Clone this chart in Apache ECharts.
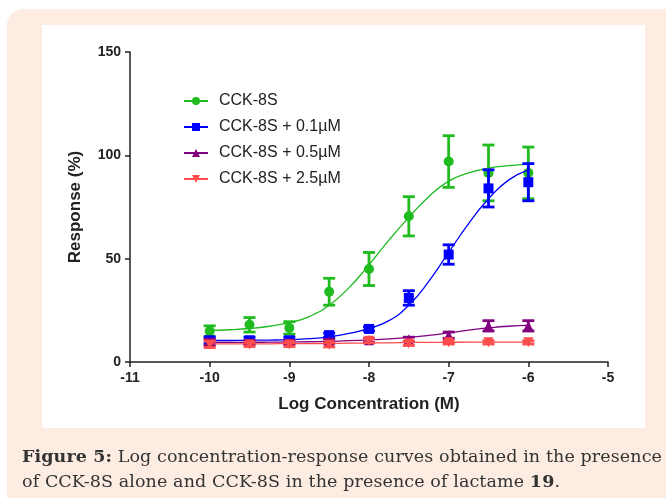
<!DOCTYPE html>
<html>
<head>
<meta charset="utf-8">
<script src="https://cdn.jsdelivr.net/npm/echarts@6/dist/echarts.min.js"></script>
<style>
  html, body { margin: 0; padding: 0; background: #fff; }
  #frame {
    position: absolute; left: 7px; top: 9px; width: 700px; height: 520px;
    background: #fcece1; border-radius: 16px;
  }
  #panel {
    position: absolute; left: 42px; top: 25px; width: 603px; height: 403px;
    background: #fff;
  }
  #chart { position: absolute; left: 0; top: 0; width: 666px; height: 498px; }
  #caption {
    position: absolute; left: 22px; top: 444px; width: 660px;
    font-family: "DejaVu Serif", serif; font-size: 17.5px; line-height: 25px;
    letter-spacing: 0.1px; color: #333; white-space: nowrap;
  }
</style>
</head>
<body>
<div id="frame"></div>
<div id="panel"></div>
<div id="chart"></div>
<div id="caption"><b>Figure 5:</b> Log concentration-response curves obtained in the presence<br>of CCK-8S alone and CCK-8S in the presence of lactame <b>19</b>.</div>
<script>
// log concentration of the measured points
const logConc = [-10, -9.5, -9, -8.5, -8, -7.5, -7, -6.5, -6];

// mean response (%) and error (+/-)
const cckMean = [15, 18, 16.5, 34, 45, 70.5, 97, 91.5, 91.5];
const cckErr = [2.5, 3.5, 3, 6.5, 8, 9.5, 12.5, 13.5, 12.5];
const c01Mean = [10.5, 10.5, 10.5, 13, 16, 31, 52, 84, 87];
const c01Err = [1.5, 1.5, 1.5, 1, 1, 3.5, 4.7, 9, 9];
const c05Mean = [9.5, 9.5, 9.5, 10, 10.5, 11, 13, 17.5, 17.5];
const c05Err = [1.5, 1, 1, 1, 1, 1, 1.5, 2.5, 2.5];
const c25Mean = [8.5, 8.5, 8.5, 8.3, 10.3, 9, 9.5, 9.5, 9.5];
const c25Err = [1.5, 1, 1, 1, 1, 1, 0.8, 0.8, 0.8];

// fitted curves, every 0.25 log unit
const curveX = [-10, -9.75, -9.5, -9.25, -9, -8.75, -8.5, -8.25, -8, -7.75, -7.5, -7.25, -7, -6.75, -6.5, -6.25, -6];
const cckCurve = [15.3, 15.6, 16.2, 17.3, 19, 22, 27.5, 36, 47, 59, 70, 80, 87.5, 91.5, 93.8, 95, 95.6];
const c01Curve = [10.4, 10.4, 10.5, 10.6, 10.8, 11.3, 12.2, 13.8, 16.3, 20, 27.5, 39, 53, 67, 79, 88, 93];
const c05Curve = [9.5, 9.5, 9.5, 9.6, 9.7, 9.8, 10, 10.3, 10.7, 11.2, 11.9, 12.9, 14.1, 15.4, 16.5, 17.3, 17.7];
const c25Curve = [8.8, 8.8, 8.8, 8.8, 8.9, 8.9, 9, 9.1, 9.2, 9.3, 9.4, 9.5, 9.5, 9.6, 9.6, 9.6, 9.6];

const groups = [
  { name: 'CCK-8S', color: '#1fbb1f', symbol: 'circle', rotate: 0, mean: cckMean, err: cckErr, curve: cckCurve },
  { name: 'CCK-8S + 0.1µM', color: '#0000ff', symbol: 'rect', rotate: 0, mean: c01Mean, err: c01Err, curve: c01Curve },
  { name: 'CCK-8S + 0.5µM', color: '#800080', symbol: 'triangle', rotate: 0, mean: c05Mean, err: c05Err, curve: c05Curve },
  { name: 'CCK-8S + 2.5µM', color: '#ff4c4c', symbol: 'triangle', rotate: 180, mean: c25Mean, err: c25Err, curve: c25Curve }
];

const chart = echarts.init(document.getElementById('chart'));

const series = [];
groups.forEach(function (g, i) {
  series.push({
    name: g.name,
    type: 'line',
    smooth: true,
    symbol: g.symbol,
    symbolRotate: g.rotate,
    symbolSize: 9,
    showSymbol: false,
    lineStyle: { color: g.color, width: 1.3 },
    itemStyle: { color: g.color },
    data: curveX.map(function (x, k) { return [x, g.curve[k]]; }),
    z: 2 + i * 3
  });
  series.push({
    name: g.name,
    type: 'custom',
    renderItem: function (params, api) {
      const x = api.value(0);
      const top = api.coord([x, api.value(2)]);
      const bot = api.coord([x, api.value(1)]);
      const cw = 6;
      const st = { stroke: g.color, lineWidth: 2.8 };
      return {
        type: 'group',
        children: [
          { type: 'line', shape: { x1: top[0], y1: top[1], x2: bot[0], y2: bot[1] }, style: st },
          { type: 'line', shape: { x1: top[0] - cw, y1: top[1], x2: top[0] + cw, y2: top[1] }, style: st },
          { type: 'line', shape: { x1: bot[0] - cw, y1: bot[1], x2: bot[0] + cw, y2: bot[1] }, style: st }
        ]
      };
    },
    data: logConc.map(function (x, k) { return [x, g.mean[k] - g.err[k], g.mean[k] + g.err[k]]; }),
    z: 3 + i * 3
  });
  series.push({
    name: g.name,
    type: 'scatter',
    symbol: g.symbol,
    symbolRotate: g.rotate,
    symbolSize: 10,
    itemStyle: { color: g.color, opacity: 1 },
    data: logConc.map(function (x, k) { return [x, g.mean[k]]; }),
    z: 4 + i * 3
  });
});

chart.setOption({
  animation: false,
  backgroundColor: 'transparent',
  textStyle: { fontFamily: 'Liberation Sans, Arial, sans-serif' },
  legend: {
    data: groups.map(function (g) { return g.name; }),
    orient: 'vertical',
    left: 178,
    top: 88,
    itemWidth: 24,
    itemHeight: 10,
    itemGap: 10,
    textStyle: { fontSize: 16, color: '#222', padding: [0, 0, 0, 6] }
  },
  grid: { left: 130, right: 58, top: 52, bottom: 136 },
  xAxis: {
    type: 'value',
    min: -11,
    max: -5,
    interval: 1,
    name: 'Log Concentration (M)',
    nameLocation: 'middle',
    nameGap: 34,
    nameTextStyle: { fontSize: 17, fontWeight: 'bold', color: '#222' },
    axisLine: { lineStyle: { color: '#222', width: 1.5 } },
    axisTick: { length: 5, lineStyle: { color: '#222', width: 1.5 } },
    axisLabel: { fontSize: 14, fontWeight: 'bold', color: '#222', margin: 9 },
    splitLine: { show: false }
  },
  yAxis: {
    type: 'value',
    min: 0,
    max: 150,
    interval: 50,
    name: 'Response (%)',
    nameLocation: 'middle',
    nameGap: 46,
    nameTextStyle: { fontSize: 17, fontWeight: 'bold', color: '#222' },
    axisLine: { show: true, lineStyle: { color: '#222', width: 1.5 } },
    axisTick: { show: true, length: 5, lineStyle: { color: '#222', width: 1.5 } },
    axisLabel: { fontSize: 14, fontWeight: 'bold', color: '#222', margin: 9 },
    splitLine: { show: false }
  },
  series: series
});
</script>
</body>
</html>
